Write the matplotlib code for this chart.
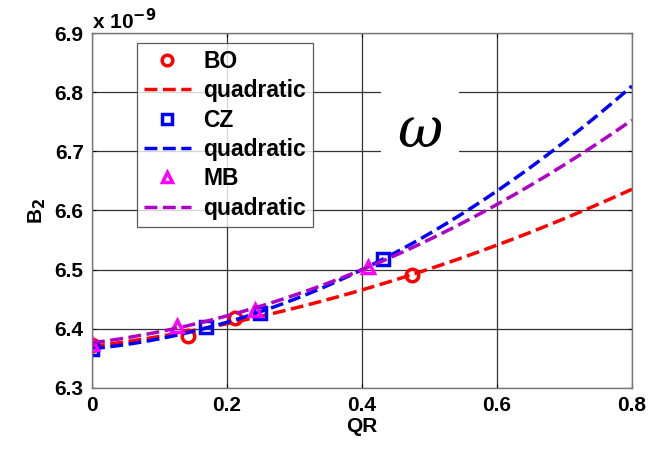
import numpy as np
import matplotlib
matplotlib.use("Agg")
import matplotlib.pyplot as plt

# Data (B2 in units of 1e-9)
qr_bo = [0.0, 0.142, 0.212, 0.474]
b2_bo = [6.372, 6.388, 6.418, 6.491]
qr_cz = [0.0, 0.169, 0.249, 0.431]
b2_cz = [6.366, 6.403, 6.427, 6.518]
qr_mb = [0.0, 0.126, 0.241, 0.409]
b2_mb = [6.375, 6.405, 6.432, 6.505]

RED, BLUE, MAG, PURP = "#FF0000", "#0000FF", "#FF00FF", "#B000C8"

plt.rcParams["font.family"] = ["Liberation Sans", "DejaVu Sans"]
plt.rcParams["font.weight"] = "bold"
plt.rcParams["mathtext.default"] = "bf"

fig = plt.figure(figsize=(6.54, 4.49), dpi=100)
ax = fig.add_axes([0.1407, 0.1359, 0.8257, 0.7906])

xx = np.linspace(0, 0.8, 200)


def fit(x, y):
    return np.polyval(np.polyfit(x, y, 2), xx)


mk = dict(ls="none", mfc="none", ms=9, mew=2.5)
ax.plot(qr_bo, b2_bo, "o", color=RED, label="BO", **mk)
ax.plot(xx, fit(qr_bo, b2_bo), "--", color=RED, lw=2.5, label="quadratic")
ax.plot(qr_cz, b2_cz, "s", color=BLUE, label="CZ", **mk)
ax.plot(xx, fit(qr_cz, b2_cz), "--", color=BLUE, lw=2.5, label="quadratic")
ax.plot(qr_mb, b2_mb, "^", color=MAG, label="MB", **mk)
ax.plot(xx, fit(qr_mb, b2_mb), "--", color=PURP, lw=2.5, label="quadratic")

ax.set_xlim(0, 0.8)
ax.set_ylim(6.3, 6.9)
ax.set_xticks([0, 0.2, 0.4, 0.6, 0.8])
ax.set_xticklabels(["0", "0.2", "0.4", "0.6", "0.8"])
ax.set_yticks([6.3, 6.4, 6.5, 6.6, 6.7, 6.8, 6.9])
ax.grid(True, color="#333333", lw=0.9)
ax.set_axisbelow(True)
ax.tick_params(direction="in", length=3, top=True, right=True,
               labelsize=15, pad=6)
for s in ax.spines.values():
    s.set_color("#777777")
    s.set_linewidth(1.0)

ax.set_xlabel("QR", fontsize=15, fontweight="bold", labelpad=1)
ax.set_ylabel(r"B$_2$", fontsize=15, fontweight="bold", labelpad=5)
ax.text(0.0, 1.0, r"x 10$^{-9}$", transform=ax.transAxes,
        fontsize=15, fontweight="bold", va="bottom", ha="left")

ax.text(0.607, 0.722, "ω", transform=ax.transAxes, fontsize=40,
        family="DejaVu Serif", style="italic", fontweight="normal",
        ha="center", va="center",
        bbox=dict(facecolor="white", edgecolor="none", pad=12))

leg = ax.legend(loc="upper left", bbox_to_anchor=(0.083, 0.972),
                fontsize=16.5, frameon=True, fancybox=False,
                edgecolor="#333333", handlelength=2.05, borderpad=0.3,
                labelspacing=0.28, handletextpad=0.55, borderaxespad=0,
                markerscale=0.85)
leg.get_frame().set_linewidth(0.9)
for t in leg.get_texts():
    t.set_fontweight("bold")

fig.savefig("out.png", dpi=100)
